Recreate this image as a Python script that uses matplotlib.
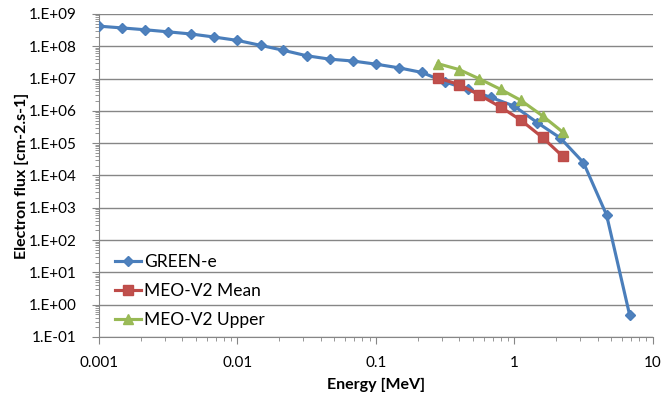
import matplotlib
matplotlib.use("Agg")
import matplotlib.pyplot as plt
import numpy as np
from matplotlib.ticker import FuncFormatter, LogLocator, NullFormatter

plt.rcParams["font.family"] = ["Lato", "DejaVu Sans"]

# GREEN-e spectrum
green_e_energy = [0.001, 0.00147, 0.00215, 0.00316, 0.00464, 0.00681, 0.01, 0.0147,
                  0.0215, 0.0316, 0.0464, 0.0681, 0.1, 0.147, 0.215, 0.316, 0.464,
                  0.681, 1.0, 1.47, 2.15, 3.16, 4.64, 6.81]
green_e_flux = [4.2e8, 3.7e8, 3.25e8, 2.8e8, 2.4e8, 1.93e8, 1.52e8, 1.07e8,
                7.5e7, 5.1e7, 4.0e7, 3.5e7, 2.8e7, 2.15e7, 1.55e7, 7.9e6, 4.6e6,
                2.6e6, 1.4e6, 4.3e5, 1.45e5, 2.5e4, 6.0e2, 0.48]

# MEO-V2 model
meo_energy = [0.28, 0.4, 0.56, 0.8, 1.12, 1.6, 2.24]
meo_mean = [1.05e7, 6.5e6, 3.1e6, 1.3e6, 5.1e5, 1.5e5, 3.9e4]
meo_upper = [2.9e7, 1.9e7, 9.8e6, 4.6e6, 2.1e6, 7.0e5, 2.2e5]

fig = plt.figure(figsize=(6.62, 3.94), dpi=100)
ax = fig.add_axes([0.1495, 0.1447, 0.8365, 0.8198])

ax.plot(green_e_energy, green_e_flux, color="#4A7EBB", lw=2.25, marker="D", ms=5.5,
        mfc="#4F81BD", mec="#4A7EBB", label="GREEN-e", zorder=3)
ax.plot(meo_energy, meo_mean, color="#BE4B48", lw=2.25, marker="s", ms=7,
        mfc="#C0504D", mec="#BE4B48", label="MEO-V2 Mean", zorder=3)
ax.plot(meo_energy, meo_upper, color="#98B954", lw=2.25, marker="^", ms=7.5,
        mfc="#9BBB59", mec="#98B954", label="MEO-V2 Upper", zorder=3)

ax.set_xscale("log")
ax.set_yscale("log")
ax.set_xlim(0.001, 10)
ax.set_ylim(1e-1, 1e9)

ax.yaxis.set_major_locator(LogLocator(base=10, numticks=20))
ax.yaxis.set_minor_locator(LogLocator(base=10, subs=np.arange(2, 10), numticks=20))
ax.yaxis.set_minor_formatter(NullFormatter())
ax.yaxis.set_major_formatter(FuncFormatter(lambda v, p: f"1.E{int(round(np.log10(v))):+03d}"))
ax.xaxis.set_major_formatter(FuncFormatter(lambda v, p: f"{v:g}"))
ax.xaxis.set_minor_formatter(NullFormatter())

ax.grid(axis="y", which="major", color="#868686", lw=1)
ax.set_axisbelow(True)
for s in ["top", "right"]:
    ax.spines[s].set_visible(False)
for s in ["left", "bottom"]:
    ax.spines[s].set_color("#868686")
ax.tick_params(which="major", length=5, color="#868686", labelsize=11, labelcolor="black")
ax.tick_params(axis="y", which="major", pad=11)
ax.tick_params(axis="x", which="major", pad=9)
ax.tick_params(which="minor", length=3, color="#868686")

ax.set_xlabel("Energy [MeV]", fontweight="bold", fontsize=11.5, va="center")
ax.set_ylabel("Electron flux [cm-2.s-1]", fontweight="bold", fontsize=11.5, va="center")
ax.xaxis.set_label_coords(0.5, -0.147)
ax.yaxis.set_label_coords(-0.139, 0.5)

ax.legend(loc="lower left", bbox_to_anchor=(0.0, -0.02), frameon=False, fontsize=12.5,
          handlelength=1.5, labelspacing=0.75, handletextpad=0.2)

fig.savefig("out.png", dpi=100, facecolor="white")
